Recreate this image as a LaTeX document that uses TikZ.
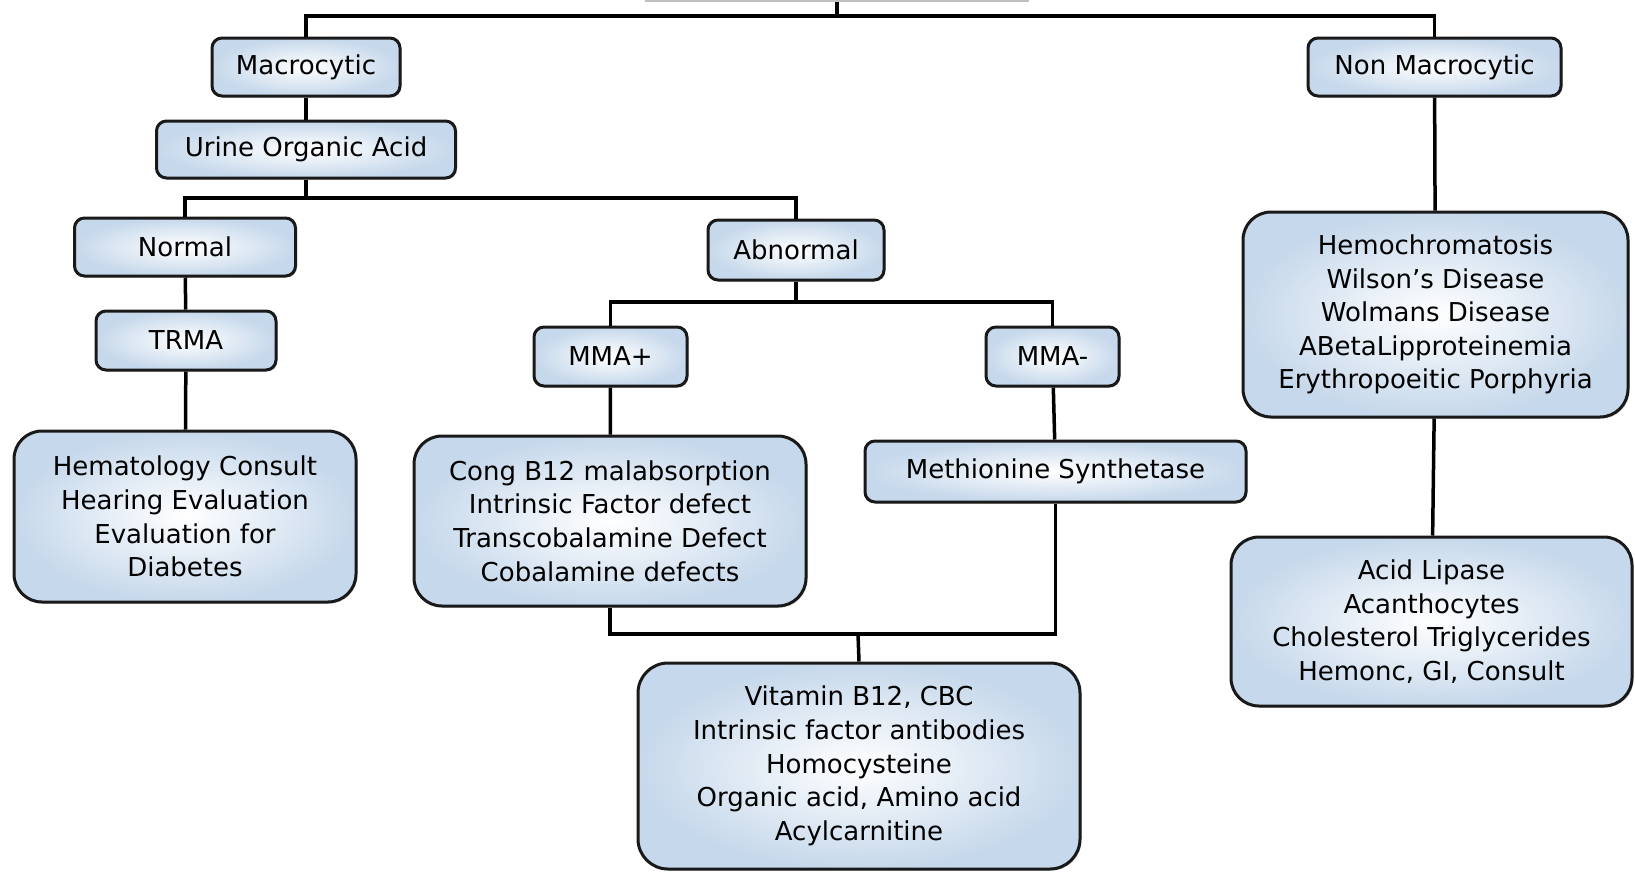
\documentclass[tikz,border=0pt]{standalone}
\usepackage{fontspec}
\setmainfont{DejaVu Sans}
\usetikzlibrary{shadows}
\definecolor{boxblue}{HTML}{C6D8EB}
\tikzset{
  box/.style={draw=black!90, line width=3pt, rounded corners=10pt,
    inner color=white, outer color=boxblue, align=center, inner sep=0pt,
    font=\fontsize{26}{33.6}\selectfont,
    drop shadow={shadow xshift=1.5pt, shadow yshift=-1.5pt, opacity=0.35, fill=black!50}},
  bigbox/.style={box, rounded corners=28pt},
  sz/.style 2 args={minimum width=#1pt, minimum height=#2pt},
  conn/.style={line width=3.5pt, black},
}
\begin{document}
\begin{tikzpicture}[x=1pt, y=-1pt]
\useasboundingbox (0,0) rectangle (1635,871);
% root (only its lower edge is visible)
\node[draw=black!25, line width=1.5pt, fill=white, sz={383}{60}, inner sep=0pt] (root) at (837,-29) {};
\node[box, sz={188}{58}] (macro) at (306,67) {Macrocytic};
\node[box, sz={253}{58}] (nonmacro) at (1434.5,67) {Non Macrocytic};
\node[box, sz={299}{57}] (urine) at (306,149.5) {Urine Organic Acid};
\node[box, sz={221}{58}] (normal) at (185,247) {Normal};
\node[box, sz={176}{60}] (abnormal) at (796,250) {Abnormal};
\node[box, sz={180}{59}] (trma) at (186,340.5) {TRMA};
\node[bigbox, sz={342}{171}] (hema) at (185,516.5) {Hematology Consult\\Hearing Evaluation\\Evaluation for\\Diabetes};
\node[box, sz={153}{59}] (mmap) at (610.5,356.5) {MMA+};
\node[box, sz={133}{59}] (mmam) at (1052.5,356.5) {MMA-};
\node[bigbox, sz={392}{170}] (cong) at (610,521) {Cong B12 malabsorption\\Intrinsic Factor defect\\Transcobalamine Defect\\Cobalamine defects};
\node[box, sz={381}{61}] (meth) at (1055.5,471.5) {Methionine Synthetase};
\node[bigbox, rounded corners=30pt, sz={442}{206}] (vit) at (859,766) {Vitamin B12, CBC\\Intrinsic factor antibodies\\Homocysteine\\Organic acid, Amino acid\\Acylcarnitine};
\node[bigbox, sz={385}{205}] (hemo) at (1435.5,314.5) {Hemochromatosis\\Wilson’s Disease\\Wolmans Disease\\ABetaLipproteinemia\\Erythropoeitic Porphyria};
\node[bigbox, sz={401}{169}] (acid) at (1431.5,621.5) {Acid Lipase\\Acanthocytes\\Cholesterol Triglycerides\\Hemonc, GI, Consult};
% junctions
\coordinate (j0) at (837,16);
\coordinate (j1) at (306,198);
\coordinate (j2) at (796,302);
\coordinate (j3) at (858,634);
% connectors
\draw[conn] (root.south) -- (j0);
\draw[conn] (macro.north) |- (j0) -| (nonmacro.north);
\draw[conn] (macro) -- (urine);
\draw[conn] (urine.south) -- (j1);
\draw[conn] (normal.north) |- (j1) -| (abnormal.north);
\draw[conn] (normal) -- (trma);
\draw[conn] (trma) -- (hema);
\draw[conn] (abnormal.south) -- (j2);
\draw[conn] (mmap.north) |- (j2) -| (mmam.north);
\draw[conn] (mmap) -- (cong);
\draw[conn] (mmam) -- (meth);
\draw[conn] (cong.south) |- (j3) -| (meth.south);
\draw[conn] (j3) -- (vit.north);
\draw[conn] (nonmacro) -- (hemo);
\draw[conn] (hemo) -- (acid);
\end{tikzpicture}
\end{document}
